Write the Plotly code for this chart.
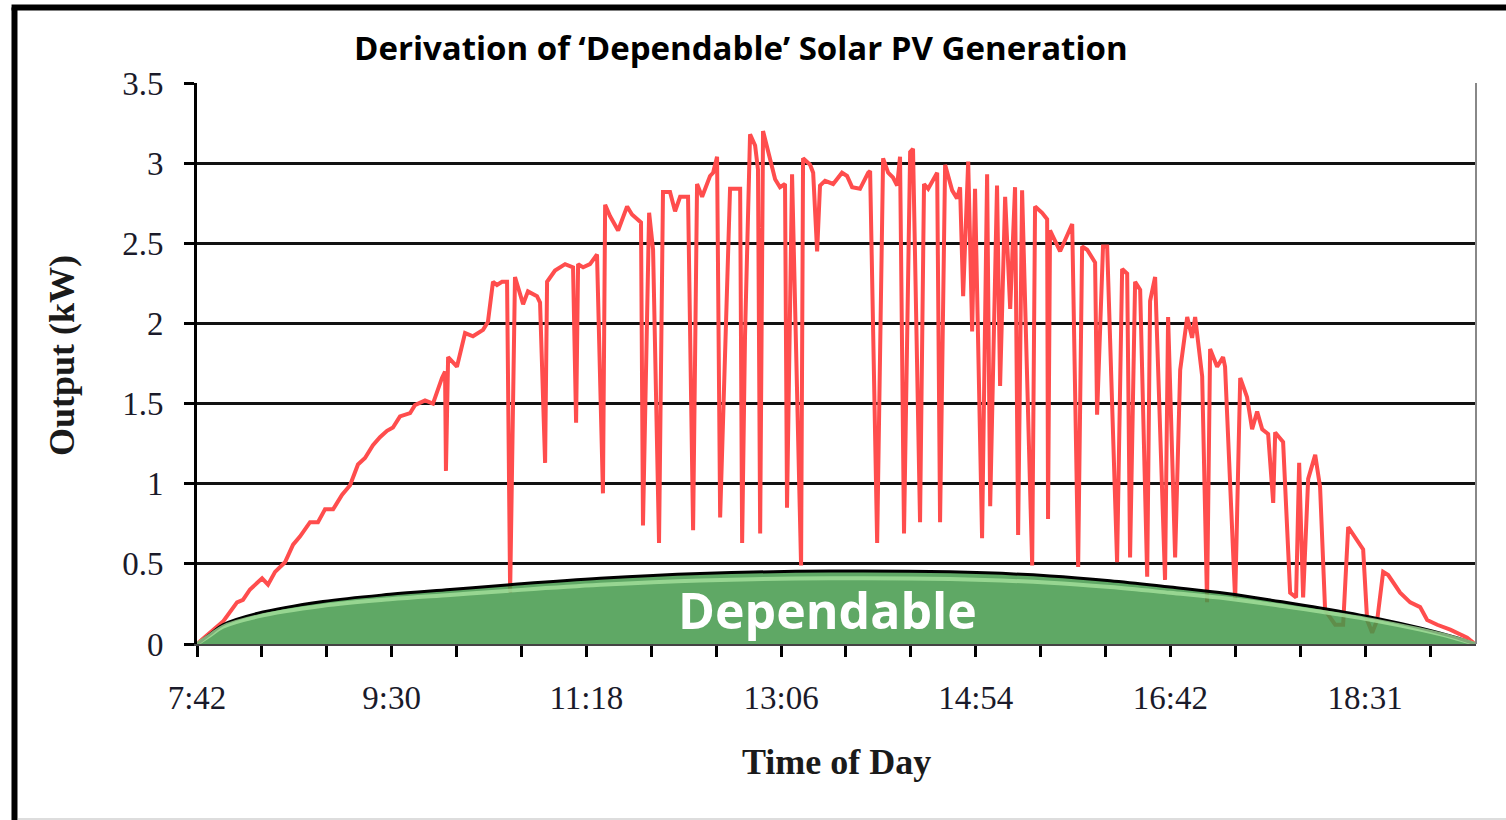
import plotly.graph_objects as go

# ---- data (minutes after 7:42, output in kW) ----
pv_minutes = [0, 7.2, 14.4, 22.2, 25.5, 29.4, 36.1, 39.4, 43.3, 48.8, 53.3, 57.1, 62.7, 67.1, 71.0, 75.5,
              80.4, 84.9, 89.3, 93.2, 97.6, 101.5, 105.4, 108.7, 112.6, 118.2, 120.9, 126.5, 130.9, 135.9,
              137.6, 138.1, 139.3, 144.2, 148.7, 153.1, 158.7, 161.4, 164.2, 166.4, 169.2, 172.0, 173.7,
              176.4, 180.9, 183.6, 188.6, 190.3, 193.1, 194.2, 198.6, 204.2, 208.6, 210.3, 211.4, 214.2,
              218.0, 221.9, 225.2, 226.4, 229.1, 233.6, 238.6, 241.3, 244.7, 246.3, 247.4, 250.8, 253.0,
              256.3, 258.5, 262.4, 265.2, 268.0, 272.4, 275.2, 277.4, 280.2, 284.6, 286.3, 288.5, 290.2,
              295.7, 301.3, 302.4, 304.0, 306.8, 309.6, 311.2, 312.4, 314.0, 320.7, 323.4, 326.2, 327.3,
              330.1, 335.1, 336.2, 340.1, 341.8, 344.0, 345.6, 348.4, 352.9, 357.8, 360.6, 363.4, 367.8,
              372.3, 373.4, 377.3, 380.6, 383.4, 386.1, 388.4, 390.0, 392.2, 395.6, 397.2, 401.1, 403.3,
              405.6, 410.6, 412.2, 415.0, 418.9, 421.6, 423.3, 425.0, 427.8, 430.0, 431.6, 435.5, 438.3,
              440.0, 443.8, 445.5, 448.3, 451.1, 453.8, 455.5, 457.7, 463.3, 464.9, 468.8, 471.6, 472.1,
              473.2, 478.8, 485.5, 488.8, 491.0, 493.8, 498.2, 499.3, 502.6, 504.9, 510.4, 513.2, 516.0,
              517.6, 520.4, 523.2, 527.1, 528.7, 531.5, 537.0, 538.7, 542.6, 545.4, 549.3, 552.0, 553.7,
              557.6, 560.3, 562.0, 565.9, 569.2, 570.3, 575.9, 578.7, 582.5, 585.3, 588.1, 590.9, 594.2,
              597.0, 598.1, 602.5, 606.4, 609.7, 611.4, 613.6, 616.4, 620.3, 623.0, 625.8, 631.4, 635.8,
              638.6, 646.9, 649.1, 651.9, 654.7, 658.0, 660.8, 667.4, 673.0, 678.5, 682.4, 688.0, 695.2,
              704.6, 709.0]
pv_output_kw = [0, 0.07, 0.14, 0.26, 0.275, 0.34, 0.41, 0.37, 0.45, 0.51, 0.62, 0.67, 0.76, 0.76, 0.84, 0.84,
                0.93, 0.99, 1.12, 1.16, 1.24, 1.29, 1.33, 1.35, 1.42, 1.44, 1.49, 1.52, 1.50, 1.66,
                1.70, 1.08, 1.79, 1.73, 1.94, 1.92, 1.96, 2.01, 2.26, 2.24, 2.26, 2.26, 0.32,
                2.29, 2.12, 2.20, 2.17, 2.13, 1.13, 2.26, 2.33, 2.37, 2.35, 1.38, 2.37, 2.35,
                2.37, 2.43, 0.94, 2.74, 2.67, 2.58, 2.73, 2.68, 2.65, 2.63, 0.74, 2.69, 2.46,
                0.63, 2.82, 2.82, 2.70, 2.79, 2.79, 0.71, 2.87, 2.79, 2.92, 2.94, 3.04, 0.79,
                2.84, 2.84, 0.63, 1.92, 3.18, 3.11, 2.96, 0.69, 3.20, 2.90, 2.85, 2.87, 0.85,
                2.93, 0.49, 3.03, 2.99, 2.94, 2.45, 2.86, 2.89, 2.87, 2.94, 2.92, 2.85, 2.84,
                2.94, 2.95, 0.63, 3.03, 2.94, 2.91, 2.86, 3.04, 0.69, 3.07, 3.09, 0.76, 2.87,
                2.84, 2.94, 0.76, 2.99, 2.83, 2.78, 2.85, 2.17, 3.01, 1.95, 2.84, 0.66, 2.93,
                0.86, 2.86, 1.61, 2.79, 2.09, 2.85, 0.68, 2.83, 0.49, 2.73, 2.69, 2.65, 0.78,
                2.58, 2.45, 2.62, 0.48, 2.48, 2.46, 2.38, 1.43, 2.48, 2.48, 0.51, 2.34, 2.31,
                0.54, 2.26, 2.21, 0.42, 2.14, 2.29, 0.40, 2.04, 0.54, 1.71, 2.04, 1.91, 2.04,
                1.67, 0.26, 1.84, 1.73, 1.79, 1.73, 0.275, 1.66, 1.54, 1.34, 1.45, 1.34, 1.31,
                0.88, 1.32, 1.26, 0.32, 0.29, 1.13, 0.29, 1.03, 1.18, 0.98, 0.21, 0.12, 0.12,
                0.73, 0.59, 0.15, 0.07, 0.15, 0.45, 0.43, 0.32, 0.26, 0.23, 0.15, 0.12, 0.09,
                0.04, 0]

dependable_minutes = [0, 7.2, 14.4, 33.3, 69.9, 107.1, 140.4, 173.7, 223.6, 279.1, 351.2, 417.8,
                      473.2, 506.5, 539.8, 571.4, 600.8, 623.0, 654.7, 678.5, 696.8, 709.0]
dependable_kw = [0, 0.06, 0.12, 0.19, 0.265, 0.31, 0.34, 0.37, 0.41, 0.44, 0.455, 0.45,
                 0.425, 0.395, 0.355, 0.315, 0.265, 0.225, 0.16, 0.10, 0.045, 0]

tick_minutes = [0, 108, 216, 324, 432, 540, 648]
tick_labels = ["7:42", "9:30", "11:18", "13:06", "14:54", "16:42", "18:31"]
minor_step = 36

# ---- figure ----
fig = go.Figure()

fig.add_trace(go.Scatter(x=pv_minutes, y=pv_output_kw, mode="lines",
                         line=dict(color="rgb(255,77,77)", width=4), hoverinfo="skip"))

fig.add_trace(go.Scatter(x=dependable_minutes, y=dependable_kw, mode="lines", fill="tozeroy",
                         fillcolor="rgba(67,153,74,0.85)",
                         line=dict(color="black", width=3, shape="spline"), hoverinfo="skip"))

fig.add_trace(go.Scatter(x=dependable_minutes, y=[v * 0.9 for v in dependable_kw], mode="lines",
                         line=dict(color="rgba(170,230,160,0.75)", width=4, shape="spline"),
                         hoverinfo="skip"))

all_ticks = list(range(0, 700, minor_step))
all_text = [tick_labels[tick_minutes.index(t)] if t in tick_minutes else "" for t in all_ticks]

serif = "Liberation Serif"

fig.update_layout(
    width=1506, height=820,
    margin=dict(l=197, r=30, t=83, b=176),
    paper_bgcolor="white", plot_bgcolor="white",
    showlegend=False,
    xaxis=dict(range=[0, 709.5], tickvals=all_ticks, ticktext=all_text,
               showgrid=False, zeroline=False, showline=True, linecolor="#444", linewidth=2,
               ticks="outside", ticklen=11, tickwidth=3, tickcolor="black",
               tickfont=dict(family=serif, size=33, color="#1a1a2a"), ticklabelstandoff=12),
    yaxis=dict(range=[0, 3.5], tickvals=[0, 0.5, 1, 1.5, 2, 2.5, 3, 3.5],
               ticktext=["0", "0.5", "1", "1.5", "2", "2.5", "3", "3.5"],
               showgrid=True, gridcolor="#111", gridwidth=2.5, zeroline=False,
               showline=True, linecolor="black", linewidth=3,
               ticks="outside", ticklen=10, tickwidth=2.5, tickcolor="black",
               tickfont=dict(family=serif, size=33, color="#1a1a2a"), ticklabelstandoff=14),
)

# right border of plot area and outer frame
fig.add_shape(type="line", xref="paper", yref="paper", x0=1, x1=1, y0=0, y1=1,
              line=dict(color="#888", width=2))
fig.add_shape(type="line", xref="paper", yref="paper", x0=-0.1427, x1=-0.1427, y0=-0.32, y1=1.1346,
              line=dict(color="black", width=6))
fig.add_shape(type="line", xref="paper", yref="paper", x0=-0.1450, x1=1.03, y0=1.1346, y1=1.1346,
              line=dict(color="black", width=6))
fig.add_shape(type="line", xref="paper", yref="paper", x0=-0.14, x1=1.03, y0=-0.3120, y1=-0.3120,
              line=dict(color="#ddd", width=2))

fig.add_annotation(text="<b>Derivation of ‘Dependable’ Solar PV Generation</b>",
                   xref="paper", yref="paper", x=0.4253, y=1.0624, showarrow=False,
                   xanchor="center", yanchor="middle",
                   font=dict(family="Open Sans", size=33, color="black"))
fig.add_annotation(text="<b>Dependable</b>", xref="x", yref="y", x=349.5, y=0.21, showarrow=False,
                   xanchor="center", yanchor="middle",
                   font=dict(family="Open Sans", size=50, color="white"))
fig.add_annotation(text="<b>Time of Day</b>", xref="paper", yref="paper", x=0.5, y=-0.2103,
                   showarrow=False, xanchor="center", yanchor="middle",
                   font=dict(family=serif, size=36, color="#1a1a1a"))
fig.add_annotation(text="<b>Output (kW)</b>", xref="paper", yref="paper", x=-0.1056, y=0.515,
                   showarrow=False, xanchor="center", yanchor="middle", textangle=-90,
                   font=dict(family=serif, size=36, color="#1a1a1a"))

fig.write_html("out.html", config={"displayModeBar": False},
               post_script="document.body.style.margin='0';")
